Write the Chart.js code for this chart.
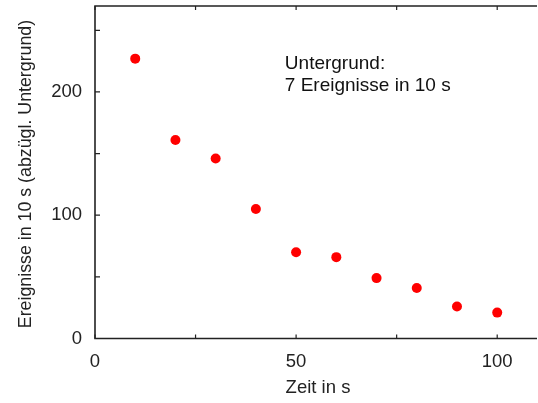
<!DOCTYPE html>
<html>
<head>
<meta charset="utf-8">
<script src="https://cdn.jsdelivr.net/npm/chart.js@4"></script>
<style>
  html, body { margin: 0; padding: 0; background: #fff; }
  #wrap { width: 538px; height: 403px; }
</style>
</head>
<body>
<div id="wrap"><canvas id="c"></canvas></div>
<script>
// Messwerte
const zeit = [10, 20, 30, 40, 50, 60, 70, 80, 90, 100];
const ereignisse = [227, 161, 146, 105, 70, 66, 49, 41, 26, 21];
const xTicks = [0, 25, 50, 75, 100];
const yTicks = [0, 50, 100, 150, 200, 250];
const xLabels = [0, 50, 100];
const yLabels = [0, 100, 200];
const hinweis = ['Untergrund:', '7 Ereignisse in 10 s'];
const xTitel = 'Zeit in s';
const yTitel = 'Ereignisse in 10 s (abzügl. Untergrund)';

const font = 'Liberation Sans, Arial, sans-serif';
const fs = 18.5;

// Rahmen, Ticks nach innen, Achsentitel und Hinweistext
const framePlugin = {
    id: 'frame',
    afterDraw(chart) {
        const ctx = chart.ctx;
        const a = chart.chartArea;
        const xs = chart.scales.x, ys = chart.scales.y;
        ctx.save();
        ctx.strokeStyle = '#222';
        ctx.lineWidth = 1.6;
        ctx.beginPath();
        ctx.moveTo(a.right + 4, a.top);
        ctx.lineTo(a.left, a.top);
        ctx.lineTo(a.left, a.bottom);
        ctx.lineTo(a.right + 4, a.bottom);
        ctx.stroke();

        ctx.lineWidth = 1.2;
        ctx.beginPath();
        xTicks.forEach(v => {
            const px = xs.getPixelForValue(v);
            ctx.moveTo(px, a.bottom); ctx.lineTo(px, a.bottom - 4);
            ctx.moveTo(px, a.top); ctx.lineTo(px, a.top + 4);
        });
        yTicks.forEach(v => {
            const py = ys.getPixelForValue(v);
            ctx.moveTo(a.left, py); ctx.lineTo(a.left + 5, py);
        });
        ctx.stroke();

        ctx.fillStyle = '#222';
        ctx.font = fs + 'px ' + font;
        ctx.textAlign = 'center';
        ctx.textBaseline = 'middle';
        ctx.fillText(xTitel, 318, 388);

        ctx.save();
        ctx.translate(26, 174);
        ctx.rotate(-Math.PI / 2);
        ctx.font = '17.8px ' + font;
        ctx.fillText(yTitel, 0, 0);
        ctx.restore();

        ctx.fillStyle = '#111';
        ctx.textAlign = 'left';
        ctx.font = '19px ' + font;
        const hx = xs.getPixelForValue(47.2);
        ctx.fillText(hinweis[0], hx, 63.5);
        ctx.fillText(hinweis[1], hx, 86);
        ctx.restore();
    }
};

new Chart(document.getElementById('c'), {
    type: 'scatter',
    data: {
        datasets: [{
            data: zeit.map((t, i) => ({ x: t, y: ereignisse[i] })),
            backgroundColor: '#ff0000',
            borderColor: '#ff0000',
            pointRadius: 5,
            pointHoverRadius: 5,
            borderWidth: 0
        }]
    },
    options: {
        responsive: true,
        maintainAspectRatio: false,
        animation: false,
        layout: { padding: { top: 6, right: 0, left: 0, bottom: 0 } },
        plugins: {
            legend: { display: false },
            tooltip: { enabled: false }
        },
        scales: {
            x: {
                type: 'linear',
                min: 0,
                max: 108.9,
                afterBuildTicks: s => { s.ticks = xLabels.map(v => ({ value: v })); },
                afterFit: s => { s.height = 64.5; s.paddingLeft = 0; s.paddingRight = 0; },
                grid: { display: false, drawTicks: false },
                border: { display: false },
                ticks: {
                    padding: 12,
                    color: '#222',
                    font: { family: font, size: fs }
                }
            },
            y: {
                type: 'linear',
                min: 0,
                max: 269.7,
                afterBuildTicks: s => { s.ticks = yLabels.map(v => ({ value: v })); },
                afterFit: s => { s.width = 95; s.paddingTop = 0; s.paddingBottom = 0; },
                grid: { display: false, drawTicks: false },
                border: { display: false },
                ticks: {
                    padding: 13,
                    color: '#222',
                    font: { family: font, size: fs }
                }
            }
        }
    },
    plugins: [framePlugin]
});
</script>
</body>
</html>
